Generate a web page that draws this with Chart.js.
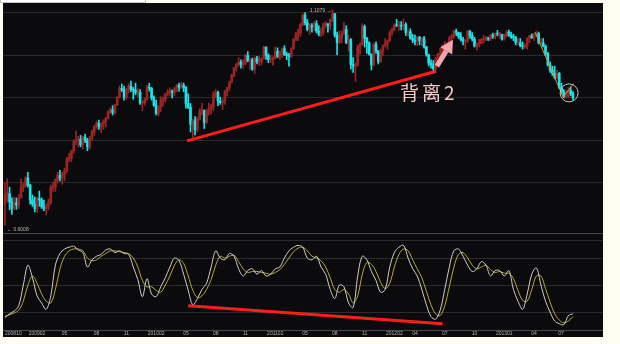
<!DOCTYPE html>
<html><head><meta charset="utf-8">
<script src="https://cdn.jsdelivr.net/npm/chart.js@4.4.0/dist/chart.umd.min.js"></script>
<style>
html,body{margin:0;padding:0;background:#fffdf2;width:620px;height:344px;overflow:hidden;}
#topbox{position:absolute;left:0;top:0;width:144px;height:2px;background:#fff;border:1px solid #c4c4c4;border-top:none;}
#panel{position:absolute;left:3px;top:3px;width:600px;height:334px;background:#0b0a0c;}
#c1{position:absolute;left:0;top:0;}
#divider{position:absolute;left:0;top:230px;width:600px;height:1px;background:#4a4a4a;}
#c2{position:absolute;left:0;top:230px;}
#note{position:absolute;left:397px;top:79px;font-family:"Noto Sans CJK SC";font-size:19px;line-height:20px;color:#f5caca;letter-spacing:3px;white-space:nowrap;}
</style></head>
<body>
<div id="topbox"></div>
<div id="panel">
<canvas id="c1" width="600" height="230"></canvas>
<div id="divider"></div>
<canvas id="c2" width="600" height="104"></canvas>
<div id="note">背离2</div>
</div>
<script>
// ---- data: AUD/USD weekly, from week of 2008-10-27 (index 0) ----
const firstOpen = 0.650;
const closes = [
0.672,0.675,0.655,0.640,0.653,0.648,0.665,0.690,0.693,0.712,
0.695,0.660,0.651,0.640,0.663,0.660,0.644,0.640,0.645,0.655,
0.690,0.690,0.707,0.718,0.712,0.720,0.730,0.757,0.758,0.775,
0.797,0.800,0.803,0.790,0.808,0.800,0.785,0.806,0.821,0.834,
0.840,0.832,0.839,0.845,0.852,0.868,0.873,0.866,0.884,0.902,
0.922,0.920,0.902,0.920,0.928,0.920,0.918,0.912,0.913,0.888,
0.888,0.897,0.925,0.923,0.900,0.883,0.864,0.880,0.895,0.897,
0.910,0.914,0.916,0.913,0.923,0.930,0.925,0.930,0.925,0.887,
0.879,0.838,0.846,0.825,0.850,0.870,0.870,0.843,0.869,0.875,
0.880,0.909,0.913,0.893,0.889,0.893,0.915,0.925,0.937,0.953,
0.972,0.980,0.984,0.978,0.982,1.000,0.988,0.990,0.968,0.993,
0.985,0.985,0.992,1.020,1.000,0.990,0.990,0.993,1.010,0.998,
1.008,1.016,1.002,1.000,0.998,1.015,1.038,1.050,1.053,1.073,
1.095,1.077,1.062,1.070,1.068,1.075,1.057,1.050,1.054,1.073,
1.075,1.070,1.085,1.098,1.048,1.030,1.042,1.050,1.061,1.030,
1.037,0.979,0.975,0.978,1.020,1.025,1.068,1.040,1.030,1.003,
0.978,1.026,1.010,0.985,1.010,1.023,1.027,1.035,1.054,1.062,
1.071,1.070,1.071,1.069,1.073,1.054,1.056,1.040,1.036,1.033,
1.043,1.035,1.040,1.020,1.002,0.982,0.978,0.969,0.993,1.003,
1.005,1.022,1.025,1.027,1.041,1.045,1.057,1.054,1.045,1.037,
1.033,1.035,1.057,1.047,1.038,1.022,1.027,1.028,1.037,1.038,
1.040,1.039,1.048,1.045,1.052,1.050,1.050,1.039,1.046,1.055,
1.048,1.043,1.042,1.030,1.030,1.023,1.021,1.022,1.040,1.046,
1.042,1.048,1.052,1.030,1.030,1.022,1.005,0.978,0.966,0.958,
0.948,0.958,0.924,0.914,0.903,0.905,0.918,0.910,0.900];
const highs = [
0.700,0.710,0.690,0.665,0.667,0.665,0.673,0.710,0.699,0.715,
0.725,0.697,0.672,0.667,0.667,0.681,0.665,0.660,0.650,0.662,
0.695,0.702,0.710,0.725,0.730,0.725,0.735,0.760,0.770,0.777,
0.802,0.822,0.810,0.812,0.810,0.815,0.805,0.810,0.825,0.835,
0.846,0.848,0.842,0.849,0.855,0.870,0.877,0.882,0.885,0.903,
0.928,0.933,0.928,0.923,0.934,0.940,0.925,0.935,0.922,0.920,
0.893,0.900,0.930,0.935,0.925,0.905,0.895,0.881,0.903,0.902,
0.910,0.920,0.924,0.919,0.925,0.932,0.935,0.937,0.935,0.927,
0.910,0.887,0.850,0.856,0.855,0.875,0.888,0.872,0.873,0.888,
0.885,0.915,0.920,0.916,0.902,0.898,0.918,0.925,0.940,0.956,
0.972,0.981,0.995,0.990,0.990,1.003,1.009,0.993,0.994,0.997,
0.998,0.998,0.995,1.022,1.020,1.004,1.000,0.997,1.020,1.018,
1.010,1.018,1.023,1.008,1.005,1.018,1.040,1.055,1.062,1.076,
1.098,1.101,1.085,1.075,1.075,1.080,1.082,1.070,1.065,1.077,
1.080,1.075,1.086,1.1079,1.099,1.055,1.057,1.058,1.078,1.070,
1.048,1.040,0.995,0.983,1.025,1.030,1.075,1.072,1.043,1.032,
1.004,1.030,1.032,1.012,1.015,1.025,1.040,1.037,1.058,1.065,
1.075,1.085,1.080,1.080,1.086,1.077,1.060,1.063,1.050,1.048,
1.045,1.045,1.043,1.045,1.022,1.003,0.990,0.988,0.996,1.005,
1.017,1.025,1.033,1.030,1.045,1.050,1.060,1.062,1.055,1.054,
1.043,1.038,1.060,1.059,1.054,1.043,1.030,1.038,1.040,1.047,
1.045,1.043,1.050,1.053,1.053,1.059,1.055,1.050,1.050,1.059,
1.060,1.055,1.050,1.045,1.040,1.040,1.032,1.028,1.042,1.048,
1.051,1.052,1.058,1.055,1.040,1.040,1.025,1.007,0.985,0.975,
0.975,0.965,0.960,0.935,0.920,0.918,0.925,0.926,0.915];
const lows = [
0.6008,0.655,0.637,0.626,0.637,0.638,0.640,0.665,0.680,0.690,
0.690,0.650,0.645,0.632,0.631,0.645,0.640,0.635,0.625,0.637,
0.650,0.680,0.680,0.700,0.705,0.697,0.705,0.725,0.750,0.750,
0.770,0.790,0.785,0.785,0.780,0.795,0.776,0.780,0.800,0.812,
0.828,0.826,0.818,0.826,0.832,0.851,0.863,0.860,0.862,0.882,
0.900,0.915,0.895,0.897,0.912,0.915,0.897,0.908,0.903,0.885,
0.870,0.883,0.895,0.916,0.895,0.880,0.860,0.858,0.868,0.880,
0.890,0.905,0.905,0.900,0.905,0.915,0.916,0.922,0.915,0.876,
0.875,0.820,0.807,0.813,0.820,0.848,0.860,0.828,0.840,0.860,
0.862,0.870,0.900,0.882,0.885,0.873,0.885,0.905,0.918,0.935,
0.950,0.963,0.975,0.970,0.970,0.978,0.985,0.967,0.965,0.958,
0.980,0.976,0.978,0.992,0.991,0.983,0.983,0.977,0.992,0.995,
0.990,0.995,1.000,0.990,0.975,0.995,1.015,1.035,1.035,1.045,
1.070,1.072,1.058,1.050,1.055,1.059,1.053,1.046,1.045,1.048,
1.065,1.055,1.061,1.080,1.043,1.002,1.028,1.030,1.050,1.028,
1.010,0.968,0.960,0.939,0.975,1.003,1.025,1.020,1.005,1.001,
0.966,0.975,1.005,0.980,0.984,1.000,1.020,1.015,1.033,1.047,
1.058,1.068,1.059,1.060,1.061,1.047,1.045,1.038,1.030,1.025,
1.023,1.025,1.023,1.017,0.998,0.975,0.970,0.958,0.964,0.985,
0.995,0.995,1.015,1.010,1.025,1.027,1.040,1.047,1.040,1.034,
1.025,1.015,1.030,1.040,1.034,1.020,1.013,1.020,1.028,1.030,
1.035,1.035,1.035,1.040,1.039,1.046,1.040,1.036,1.036,1.044,
1.045,1.040,1.035,1.025,1.025,1.020,1.015,1.017,1.015,1.030,
1.040,1.035,1.045,1.027,1.025,1.020,1.000,0.975,0.960,0.953,
0.945,0.945,0.922,0.910,0.900,0.900,0.900,0.905,0.895];
// stochastic K / D, read every second week
const kValues = [
14,18,21,27,50,72,58,38,30,23,
38,72,85,90,92,93,89,86,70,78,
82,84,89,90,86,88,85,84,70,56,
37,57,40,37,48,58,70,80,77,62,
44,28,35,45,52,70,88,80,78,85,
82,68,60,66,68,62,66,60,62,68,
70,80,88,92,94,92,80,78,82,70,
62,45,35,50,48,30,25,60,82,78,
65,55,42,45,70,86,92,94,80,68,
60,45,28,15,12,22,45,70,88,90,
82,72,65,68,76,72,60,66,66,60,
66,45,32,23,40,62,69,50,32,20,
10,7,6,16,18];
const dValues = [
15,17,19,22,32,50,60,52,40,32,
30,45,68,82,88,90,90,88,80,77,
78,82,85,88,88,87,86,85,80,70,
55,48,48,44,42,50,60,72,78,74,
60,44,36,38,45,56,72,82,80,82,
83,76,68,64,65,65,64,63,62,64,
67,73,80,87,91,92,88,82,80,77,
70,58,45,42,45,40,30,38,62,75,
73,65,53,46,52,70,84,90,88,78,
68,58,43,28,18,16,27,48,70,84,
86,80,72,68,70,72,67,64,65,63,
63,57,44,33,32,45,60,60,46,31,
18,11,8,10,15];
const stochStep = 2;
// axis ticks
const tickWeeks  = [0,14,26,40,53,66,79,92,105,118,131,144,157,170,179,192,205,218,231,244];
const tickLabels = ["200810","200902","05","08","11","201002","05","08","11","201102","05","08","11","201202","04","07","10","201301","04","07"];
const priceGrid = [0.7,0.8,0.9,1.0,1.1];
const stochGrid = [20,50,80,100];
// annotations (data units: week index, price / stoch value)
const trendX = [79.5,188.2], trendY = [0.799,0.963];
const zigX = [231.4,243.7,248.2], zigY = [1.055,0.902,0.934];
const arrowFrom = [188.6,0.975], arrowTo = [195.6,1.037];
const circleAt = [246.3,0.912];
const stochTrendX = [80,191], stochTrendY = [27,7];

// ---- derived table ----
const opens = closes.map((c,i)=> i===0 ? firstOpen : closes[i-1]);
const isUp = closes.map((c,i)=> c >= opens[i]);
const UPC = '#9b2525', DNC = '#1ae4ea';
const XMIN = -0.87, XMAX = 261.1;

const annot = {
  id:'annot',
  afterDatasetsDraw(chart){
    const {ctx, scales:{x,y}} = chart;
    ctx.save();
    const x1=x.getPixelForValue(arrowFrom[0]), y1=y.getPixelForValue(arrowFrom[1]);
    const x2=x.getPixelForValue(arrowTo[0]), y2=y.getPixelForValue(arrowTo[1]);
    const ang=Math.atan2(y2-y1,x2-x1), hl=13, hw=7;
    const bx=x2-hl*Math.cos(ang), by=y2-hl*Math.sin(ang);
    ctx.strokeStyle='#f2a7ae'; ctx.fillStyle='#f2a7ae'; ctx.lineWidth=5; ctx.lineCap='butt';
    ctx.beginPath(); ctx.moveTo(x1,y1); ctx.lineTo(bx,by); ctx.stroke();
    ctx.beginPath(); ctx.moveTo(x2,y2);
    ctx.lineTo(bx+hw*Math.sin(ang), by-hw*Math.cos(ang));
    ctx.lineTo(bx-hw*Math.sin(ang), by+hw*Math.cos(ang));
    ctx.closePath(); ctx.fill();
    ctx.strokeStyle='#c4c4c4'; ctx.lineWidth=1;
    ctx.beginPath(); ctx.arc(x.getPixelForValue(circleAt[0]), y.getPixelForValue(circleAt[1]), 9, 0, Math.PI*2); ctx.stroke();
    const hi=Math.max(...highs), hiI=highs.indexOf(hi);
    const lo=Math.min(...lows), loI=lows.indexOf(lo);
    ctx.font='5px "Liberation Sans"'; ctx.fillStyle='#b8b8b8'; ctx.textBaseline='middle';
    ctx.textAlign='right';
    ctx.fillText(hi.toFixed(4)+' \u2192', x.getPixelForValue(hiI)-1, y.getPixelForValue(hi)+1);
    ctx.textAlign='left';
    ctx.fillText('\u2190 '+lo.toFixed(4), x.getPixelForValue(loI)+2, y.getPixelForValue(lo)+4);
    ctx.restore();
  }
};

new Chart(document.getElementById('c1'), {
  type:'bar',
  data:{datasets:[
    {type:'line', data: trendX.map((v,j)=>({x:v,y:trendY[j]})), borderColor:'#ff1c1c', borderWidth:3, pointRadius:0, order:0},
    {type:'line', data: zigX.map((v,j)=>({x:v,y:zigY[j]})), borderColor:'#c99a3c', borderWidth:1, pointRadius:0, order:0},
    {data: closes.map((c,i)=>({x:i,y:[opens[i],c]})), backgroundColor:isUp.map(u=>u?UPC:DNC), barThickness:2, minBarLength:1, grouped:false, order:1},
    {data: closes.map((c,i)=>({x:i,y:[lows[i],highs[i]]})), backgroundColor:isUp.map(u=>u?UPC:DNC), barThickness:1, grouped:false, order:2}
  ]},
  options:{
    responsive:false, animation:false, devicePixelRatio:1, events:[],
    layout:{padding:0},
    plugins:{legend:{display:false}, tooltip:{enabled:false}},
    scales:{
      x:{type:'linear', min:XMIN, max:XMAX, display:false, offset:false},
      y:{min:0.5823, max:1.1235, ticks:{display:false}, border:{display:false},
         grid:{color:'#29292b', drawTicks:false, lineWidth:1},
         afterBuildTicks:s=>{s.ticks=priceGrid.map(v=>({value:v}));}}
    }
  },
  plugins:[annot]
});

const stochX = kValues.map((v,j)=>j*stochStep);
new Chart(document.getElementById('c2'), {
  type:'line',
  data:{datasets:[
    {data: stochTrendX.map((v,j)=>({x:v,y:stochTrendY[j]})), borderColor:'#ff1c1c', borderWidth:3, pointRadius:0, order:0},
    {data: stochX.map((w,j)=>({x:w,y:kValues[j]})), borderColor:'#cfcfcf', borderWidth:1, pointRadius:0, tension:0.35, order:1},
    {data: stochX.map((w,j)=>({x:w,y:dValues[j]})), borderColor:'#b3ab38', borderWidth:1, pointRadius:0, tension:0.35, order:2}
  ]},
  options:{
    responsive:false, animation:false, devicePixelRatio:1, events:[],
    layout:{padding:0},
    plugins:{legend:{display:false}, tooltip:{enabled:false}},
    scales:{
      x:{type:'linear', min:XMIN, max:XMAX, offset:false,
         grid:{display:false, drawTicks:false}, border:{color:'#4a4a4a'},
         ticks:{font:{size:5, family:'Liberation Sans', lineHeight:1.4}, color:'#b4b4b4', padding:0, maxRotation:0, autoSkip:false, align:'inner',
                callback:(v,i)=>tickLabels[i]},
         afterBuildTicks:s=>{s.ticks=tickWeeks.map(v=>({value:v}));}},
      y:{min:0, max:107.8, ticks:{display:false}, border:{display:false},
         grid:{color:'#2c2c2e', drawTicks:false},
         afterBuildTicks:s=>{s.ticks=stochGrid.map(v=>({value:v}));}}
    }
  }
});
</script>
</body></html>
